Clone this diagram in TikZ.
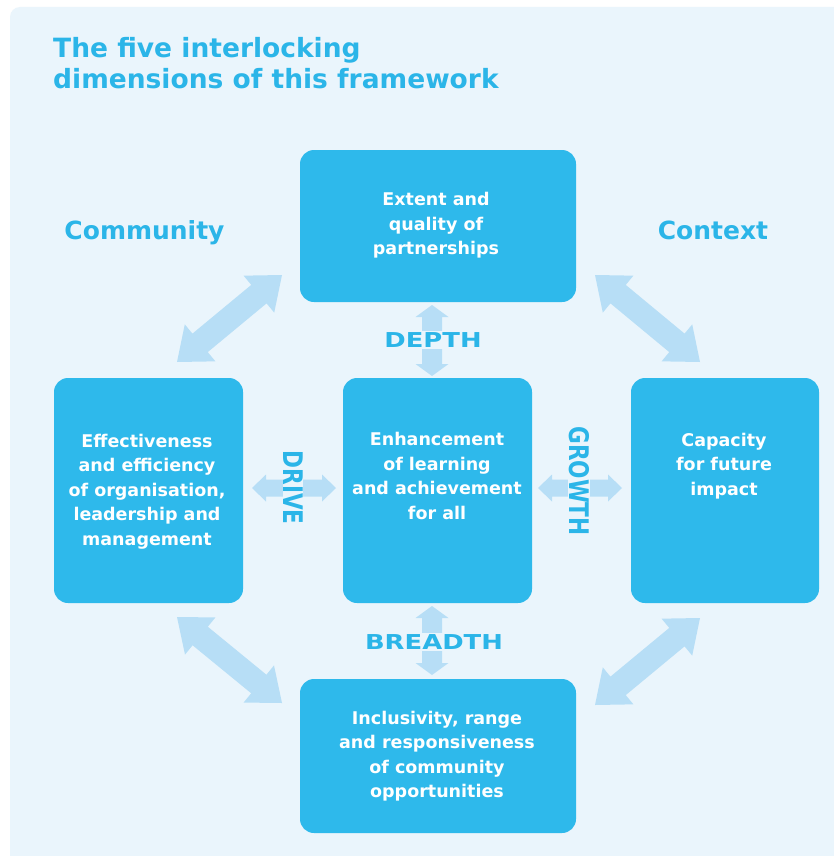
\documentclass[tikz,border=0pt]{standalone}
\usepackage{fontspec}
\setmainfont{DejaVu Sans}
\newfontfamily\widefont[FakeStretch=1.26]{DejaVu Sans}
\newfontfamily\narrowfont[FakeStretch=0.8]{DejaVu Sans}
\usetikzlibrary{calc}
\definecolor{panel}{HTML}{EAF5FC}
\definecolor{boxc}{HTML}{2EB9EB}
\definecolor{arrowc}{HTML}{B7DEF6}
\definecolor{labc}{HTML}{2BB5E8}
% fat double arrow: #2 A, #3 B, #4 shaft half width, #5 head half width, #6 head length
\newcommand\fatarrow[6][]{%
  \fill[arrowc,#1] (#2)
   -- ($($(#2)!#6!(#3)$)!#5!90:(#3)$)
   -- ($($(#2)!#6!(#3)$)!#4!90:(#3)$)
   -- ($($(#3)!#6!(#2)$)!#4!-90:(#2)$)
   -- ($($(#3)!#6!(#2)$)!#5!-90:(#2)$)
   -- (#3)
   -- ($($(#3)!#6!(#2)$)!#5!90:(#2)$)
   -- ($($(#3)!#6!(#2)$)!#4!90:(#2)$)
   -- ($($(#2)!#6!(#3)$)!#4!-90:(#3)$)
   -- ($($(#2)!#6!(#3)$)!#5!-90:(#3)$)
   -- cycle;}
\tikzset{
  box/.style={fill=boxc, draw=none, rounded corners=14pt, inner sep=0pt},
  boxtext/.style={text=white, align=center, inner sep=0pt,
    font=\bfseries\fontsize{17.5}{24.5}\selectfont},
  dimlabel/.style={text=labc, fill=panel, inner sep=1.5pt,
    font=\widefont\bfseries\fontsize{20.5}{20.5}\selectfont},
  vlabel/.style={text=labc, fill=panel, inner sep=0.5pt, rotate=-90,
    font=\narrowfont\bfseries\fontsize{27}{27}\selectfont},
  sidelabel/.style={text=labc, inner sep=0pt, anchor=base,
    font=\bfseries\fontsize{25}{25}\selectfont}
}
\begin{document}
\begin{tikzpicture}[x=1pt,y=-1pt]
\useasboundingbox (0,0) rectangle (834,856);
\fill[white] (0,0) rectangle (834,856);
\fill[panel, rounded corners=10pt] (10,7) rectangle (850,872);

% title
\node[anchor=north west, inner sep=0pt, align=left, text=labc,
      font=\bfseries\fontsize{26.5}{31}\selectfont] (title) at (53,37)
      {The five interlocking\\dimensions of this framework};

% boxes
\node[box, minimum width=276pt, minimum height=152pt] (top) at (438,226) {};
\node[box, minimum width=189pt, minimum height=225pt] (left) at (148.5,490.5) {};
\node[box, minimum width=189pt, minimum height=225pt] (center) at (437.5,490.5) {};
\node[box, minimum width=188pt, minimum height=225pt] (right) at (725,490.5) {};
\node[box, minimum width=276pt, minimum height=154pt] (bottom) at (438,756) {};

% box texts
\node[boxtext] (toptext) at (436,225.5) {Extent and\\quality of\\partnerships};
\node[boxtext] (lefttext) at (147,491.5) {Effectiveness\\and efficiency\\of organisation,\\leadership and\\management};
\node[boxtext] (centertext) at (437,476) {Enhancement\\of learning\\and achievement\\for all};
\node[boxtext] (righttext) at (724,466) {Capacity\\for future\\impact};
\node[boxtext] (bottomtext) at (437,756) {Inclusivity, range\\and responsiveness\\of community\\opportunities};

% arrow end points
\coordinate (tl1) at (177,362); \coordinate (tl2) at (282,275);
\coordinate (tr1) at (595,275); \coordinate (tr2) at (700,362);
\coordinate (br1) at (700,618); \coordinate (br2) at (595,705);
\coordinate (bl1) at (177,617); \coordinate (bl2) at (282,703);
\coordinate (d1) at (432,305); \coordinate (d2) at (432,376);
\coordinate (b1) at (432,606); \coordinate (b2) at (432,675);
\coordinate (v1) at (252,488); \coordinate (v2) at (336,488);
\coordinate (g1) at (538,488); \coordinate (g2) at (622,488);

\fatarrow{tl1}{tl2}{12pt}{24pt}{30pt}
\fatarrow{tr1}{tr2}{12pt}{24pt}{30pt}
\fatarrow{br1}{br2}{12pt}{24pt}{30pt}
\fatarrow{bl1}{bl2}{12pt}{24pt}{30pt}
\fatarrow{d1}{d2}{10pt}{16.5pt}{12pt}
\fatarrow{b1}{b2}{10pt}{16.5pt}{12pt}
\fatarrow{v1}{v2}{8.5pt}{13.5pt}{14pt}
\fatarrow{g1}{g2}{8.5pt}{13.5pt}{14pt}

% labels
\node[dimlabel] (depth) at (433,340) {DEPTH};
\node[dimlabel] (breadth) at (434,642) {BREADTH};
\node[vlabel] (drive) at (293,487.5) {DRIVE};
\node[vlabel] (growth) at (579,481) {GROWTH};
\node[sidelabel] (community) at (144.5,239) {Community};
\node[sidelabel] (context) at (713,239) {Context};
\end{tikzpicture}
\end{document}
